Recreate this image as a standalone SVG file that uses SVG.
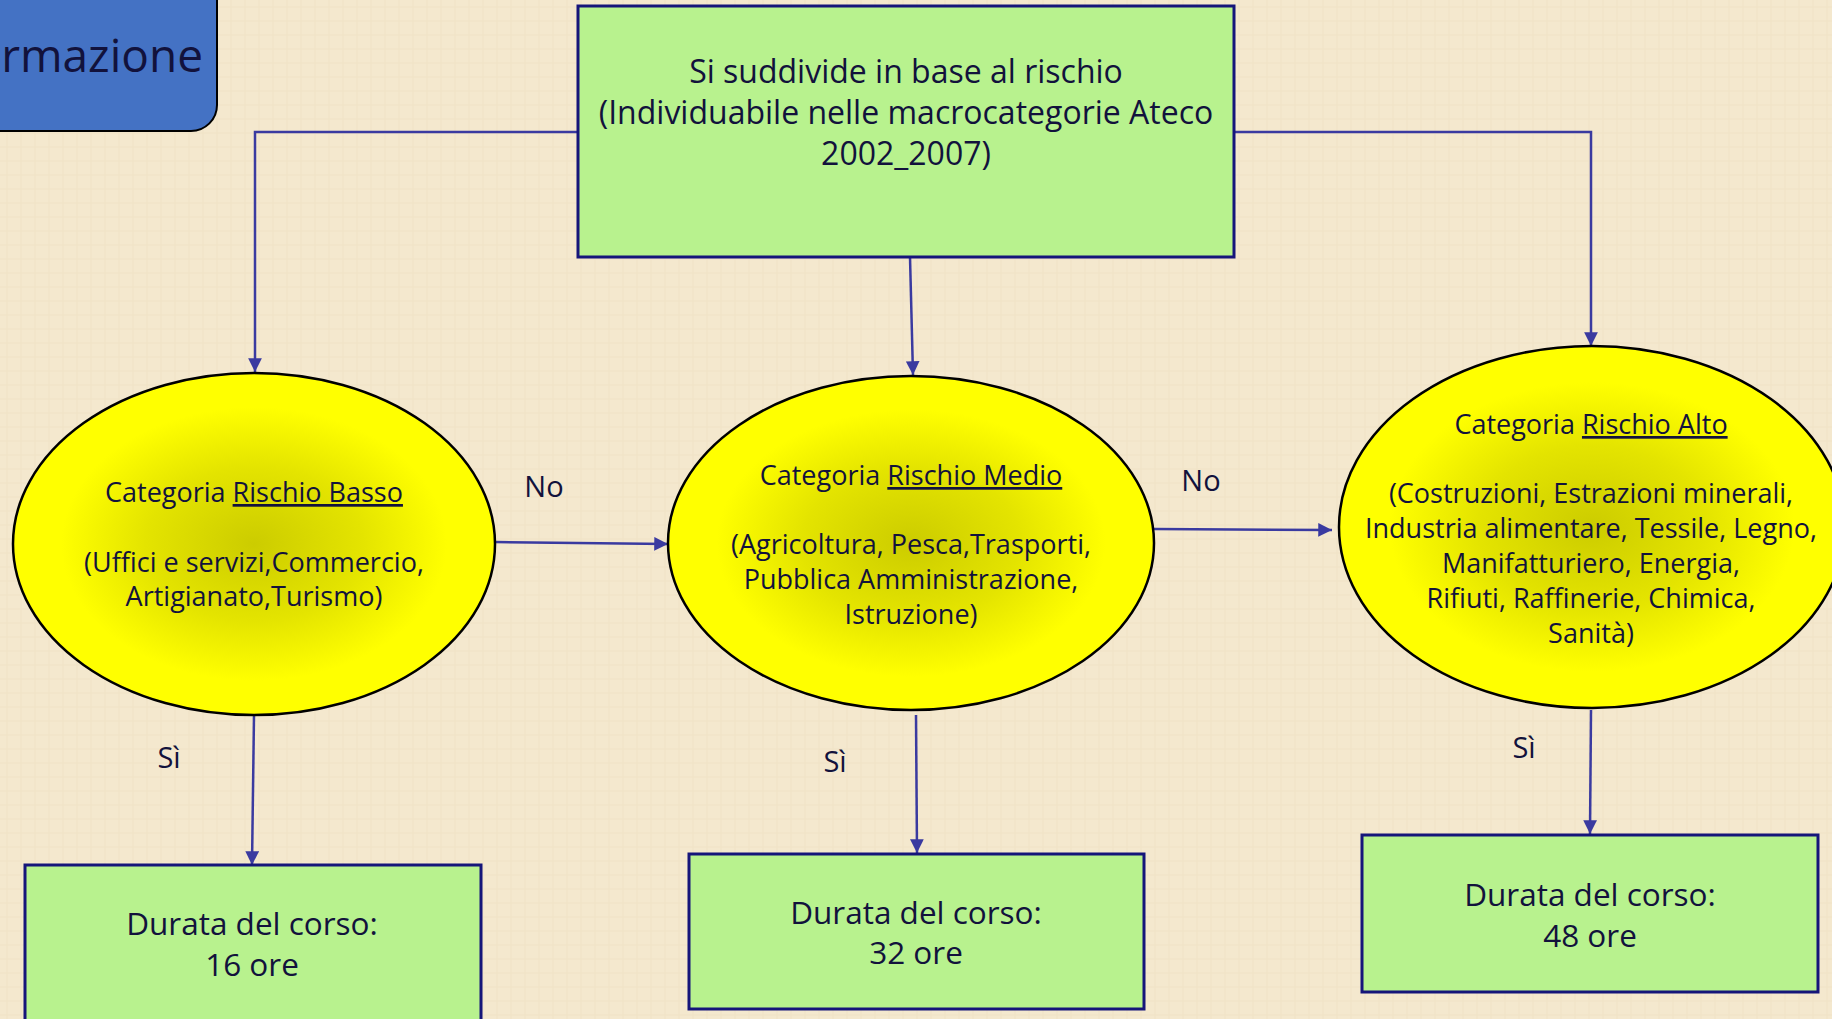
<svg xmlns="http://www.w3.org/2000/svg" width="1832" height="1019" viewBox="0 0 1832 1019">
<defs>
<radialGradient id="yel" cx="50%" cy="50%" r="50%">
<stop offset="0" stop-color="#cccc00"/>
<stop offset="0.45" stop-color="#e4e400"/>
<stop offset="0.8" stop-color="#ffff00"/>
<stop offset="1" stop-color="#ffff00"/>
</radialGradient>
<pattern id="tex" width="14" height="14" patternUnits="userSpaceOnUse">
<rect width="14" height="14" fill="#f4e8ce"/>
<path d="M0 7H14M7 0V14" stroke="#e9d9b8" stroke-width="1" opacity="0.35"/>
</pattern>
<marker id="arr" viewBox="0 0 10 10" refX="10" refY="5" markerWidth="5.5" markerHeight="5.5" orient="auto" markerUnits="strokeWidth">
<path d="M0 0L10 5L0 10z" fill="#3a3aa0"/>
</marker>
</defs>
<style>
text{font-family:"Open Sans","Noto Sans","DejaVu Sans",sans-serif;fill:#12123c;text-anchor:middle}
.box{fill:#b8f28e;stroke:#15157a;stroke-width:3}
.ell{fill:url(#yel);stroke:#000;stroke-width:2.5}
.con{fill:none;stroke:#3a3aa0;stroke-width:2.5;marker-end:url(#arr)}
.t32{font-size:32px}
.t31{font-size:31.5px}
.t27{font-size:27px}
.lab{font-size:29px}
</style>
<rect width="1832" height="1019" fill="url(#tex)"/>

<g id="title">
<rect x="-40" y="-40" width="257" height="171" rx="26" fill="#4472c4" stroke="#000" stroke-width="2"/>
<text x="203" y="72" style="font-size:46px;text-anchor:end">rmazione</text>
</g>

<g id="connectors">
<path class="con" d="M578 132H255V372"/>
<path class="con" d="M910 257L913 375"/>
<path class="con" d="M1234 132H1591V346"/>
<path class="con" d="M495 542L668 544"/>
<path class="con" d="M1154 529L1332 530"/>
<path class="con" d="M254 715L252 865"/>
<path class="con" d="M916 715L917 853"/>
<path class="con" d="M1591 710L1590 834"/>
<text class="lab" x="544" y="497">No</text>
<text class="lab" x="1201" y="491">No</text>
<text class="lab" x="169" y="768">Sì</text>
<text class="lab" x="835" y="772">Sì</text>
<text class="lab" x="1524" y="758">Sì</text>
</g>

<g id="top">
<rect class="box" x="578" y="6" width="656" height="251"/>
<text class="t32" x="906" y="83">Si suddivide in base al rischio</text>
<text class="t32" x="906" y="124">(Individuabile nelle macrocategorie Ateco</text>
<text class="t32" x="906" y="165">2002_2007)</text>
</g>

<g id="basso">
<ellipse class="ell" cx="254" cy="544" rx="241" ry="171"/>
<text class="t27" x="254" y="502">Categoria <tspan text-decoration="underline">Rischio Basso</tspan></text>
<text class="t27" x="254" y="572">(Uffici e servizi,Commercio,</text>
<text class="t27" x="254" y="606">Artigianato,Turismo)</text>
</g>

<g id="medio">
<ellipse class="ell" cx="911" cy="543" rx="243" ry="167"/>
<text class="t27" x="911" y="485">Categoria <tspan text-decoration="underline">Rischio Medio</tspan></text>
<text class="t27" x="911" y="554">(Agricoltura, Pesca,Trasporti,</text>
<text class="t27" x="911" y="589">Pubblica Amministrazione,</text>
<text class="t27" x="911" y="624">Istruzione)</text>
</g>

<g id="alto">
<ellipse class="ell" cx="1592" cy="527" rx="253" ry="181"/>
<text class="t27" x="1591" y="434">Categoria <tspan text-decoration="underline">Rischio Alto</tspan></text>
<text class="t27" x="1591" y="503">(Costruzioni, Estrazioni minerali,</text>
<text class="t27" x="1591" y="538">Industria alimentare, Tessile, Legno,</text>
<text class="t27" x="1591" y="573">Manifatturiero, Energia,</text>
<text class="t27" x="1591" y="608">Rifiuti, Raffinerie, Chimica,</text>
<text class="t27" x="1591" y="643">Sanità)</text>
</g>

<g id="ore16">
<rect class="box" x="25" y="865" width="456" height="170"/>
<text class="t31" x="252" y="935">Durata del corso:</text>
<text class="t31" x="252" y="976">16 ore</text>
</g>

<g id="ore32">
<rect class="box" x="689" y="854" width="455" height="155"/>
<text class="t31" x="916" y="924">Durata del corso:</text>
<text class="t31" x="916" y="964">32 ore</text>
</g>

<g id="ore48">
<rect class="box" x="1362" y="835" width="456" height="157"/>
<text class="t31" x="1590" y="906">Durata del corso:</text>
<text class="t31" x="1590" y="947">48 ore</text>
</g>
</svg>
